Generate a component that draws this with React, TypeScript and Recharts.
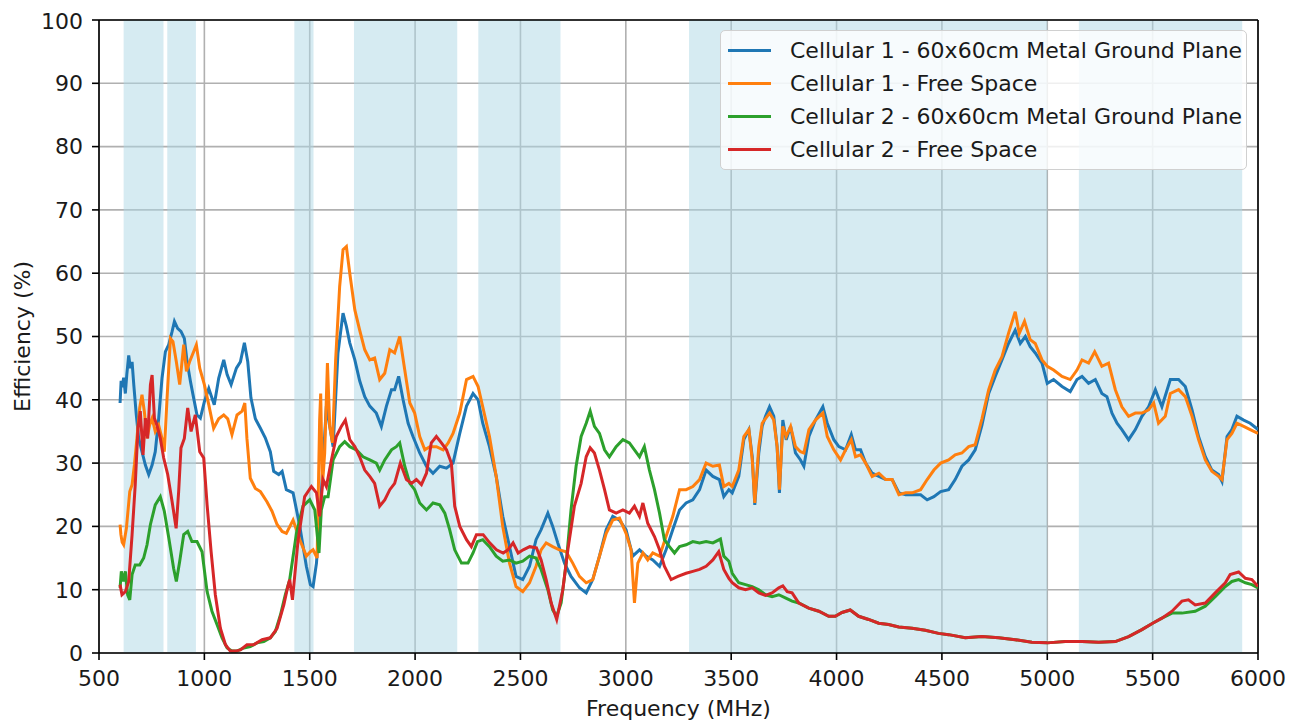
import React from "react";
import {
  LineChart,
  Line,
  XAxis,
  YAxis,
  CartesianGrid,
  ReferenceArea,
  ReferenceLine,
} from "recharts";

// [frequency MHz, efficiency %]
const cell1Ground: [number, number][] = [
  [600, 39.5], [605, 43], [610, 42], [617, 43.5], [625, 41], [632, 44], [641, 47], [649, 45], [657, 46],
  [665, 42.4], [677, 37.6], [688, 34], [704, 31.8], [720, 29.7], [736, 28.2], [752, 29.7], [767, 31.8],
  [783, 37], [799, 43.4], [815, 47.6], [831, 48.7], [847, 50.8], [858, 52.4], [873, 51.3], [889, 50.8],
  [905, 49.7], [918, 46], [934, 42.9], [949, 40.3], [965, 37.6], [981, 37.1], [1000, 39.7], [1021, 41.8],
  [1047, 39.2], [1068, 43.4], [1092, 46.3], [1108, 44], [1127, 42.4], [1152, 45], [1171, 46], [1190, 49],
  [1206, 46], [1221, 40.3], [1242, 37], [1266, 35.5], [1289, 34], [1313, 31.8], [1329, 28.7], [1353, 28.2],
  [1369, 28.7], [1389, 25.8], [1421, 25.3], [1453, 20], [1484, 13.7], [1503, 10.8], [1516, 10.5],
  [1532, 14.2], [1555, 25.3], [1579, 39], [1595, 35.8], [1611, 32.6], [1634, 47.4], [1658, 53.7],
  [1674, 51.6], [1690, 49], [1714, 46.3], [1737, 43], [1761, 40.5], [1785, 39], [1816, 37.9], [1840, 35.8],
  [1864, 39], [1888, 41.6], [1903, 41.6], [1922, 43.7], [1943, 40], [1967, 36.3], [1990, 34.2], [2022, 31.6],
  [2054, 29.5], [2085, 28.4], [2117, 29.5], [2149, 29.2], [2180, 30], [2212, 34.7], [2244, 39], [2275, 41],
  [2299, 40], [2321, 36.3], [2353, 32.6], [2385, 27.9], [2416, 21.6], [2448, 16.8], [2479, 12.1],
  [2511, 11.6], [2543, 13.7], [2574, 17.9], [2598, 19.5], [2630, 22.1], [2653, 20], [2677, 17.4],
  [2709, 14.2], [2740, 12.1], [2780, 10.3], [2812, 9.5], [2843, 11.6], [2875, 15.3], [2907, 19.5],
  [2938, 21.6], [2970, 21], [3001, 19.5], [3033, 15.3], [3065, 16.3], [3096, 15.3], [3128, 14.7],
  [3160, 13.7], [3191, 16.3], [3223, 19.5], [3255, 22.6], [3286, 23.7], [3318, 24.2], [3350, 25.8],
  [3381, 28.9], [3413, 27.9], [3444, 27.4], [3465, 24.7], [3489, 25.8], [3505, 25.3], [3536, 27.9],
  [3560, 33.7], [3584, 35.3], [3600, 31], [3612, 23.4], [3631, 31.6], [3647, 35.8], [3663, 37.4],
  [3682, 38.9], [3702, 37.4], [3718, 32.6], [3729, 25.3], [3745, 36.8], [3761, 33.7], [3782, 35.8],
  [3805, 31.6], [3829, 30.5], [3845, 29.5], [3869, 34.2], [3900, 36.8], [3935, 38.9], [3956, 36.3],
  [3987, 33.7], [4011, 32.6], [4043, 32.1], [4070, 34.5], [4090, 32.1], [4114, 32.1], [4138, 30],
  [4169, 28.4], [4201, 27.9], [4233, 27.4], [4264, 27.4], [4296, 25.3], [4328, 25], [4359, 25], [4399, 25],
  [4430, 24.2], [4462, 24.7], [4494, 25.5], [4532, 25.8], [4563, 27.4], [4595, 29.5], [4627, 30.5],
  [4658, 32.1], [4690, 36], [4722, 41], [4753, 43.7], [4785, 46.3], [4816, 48.9], [4848, 51], [4872, 48.9],
  [4896, 50], [4919, 48.4], [4943, 47.4], [4975, 45.8], [5000, 42.6], [5030, 43.2], [5070, 42.1],
  [5109, 41.3], [5141, 43.2], [5165, 43.7], [5196, 42.6], [5228, 43.2], [5259, 41], [5283, 40.5],
  [5307, 37.9], [5331, 36.3], [5354, 35.3], [5386, 33.7], [5418, 35.3], [5449, 37.4], [5481, 38.9],
  [5513, 41.6], [5544, 38.9], [5584, 43.2], [5623, 43.2], [5655, 42.1], [5687, 38.4], [5718, 34.2],
  [5750, 31], [5781, 28.9], [5813, 28.2], [5829, 27.1], [5853, 34.2], [5876, 35.3], [5900, 37.4],
  [5932, 36.8], [5963, 36.3], [6000, 35.3],
];

const cell1Free: [number, number][] = [
  [600, 20.3], [604, 18.7], [610, 17.5], [617, 17.1], [630, 19.7], [646, 25.5], [657, 26.6], [668, 29.7],
  [680, 33.9], [693, 38.7], [704, 40.8], [715, 38.2], [728, 33.9], [740, 36], [752, 37.1], [767, 35],
  [783, 36], [799, 33.9], [810, 31.8], [823, 40.3], [839, 49.7], [851, 49.2], [867, 46], [883, 42.4],
  [902, 48.7], [915, 44.5], [930, 46], [949, 47.6], [962, 48.7], [978, 45], [1000, 42.4], [1021, 39.2],
  [1044, 35.5], [1068, 37], [1092, 37.6], [1111, 37], [1131, 34.5], [1155, 37.6], [1179, 38.2],
  [1192, 39.5], [1202, 33.9], [1218, 27.6], [1242, 26], [1266, 25.5], [1297, 23.9], [1321, 22.4],
  [1345, 20.3], [1369, 19.2], [1389, 18.9], [1421, 21], [1453, 17.9], [1484, 15.3], [1503, 16],
  [1516, 16.3], [1535, 15], [1547, 36.8], [1552, 41], [1560, 26.3], [1571, 31.6], [1584, 45.8],
  [1595, 35.8], [1608, 33.2], [1623, 46.3], [1642, 57.9], [1658, 63.7], [1674, 64.2], [1690, 60],
  [1714, 54.2], [1737, 51], [1761, 47.9], [1785, 46.3], [1808, 46.6], [1832, 43.2], [1856, 44.2],
  [1880, 47.9], [1903, 47.4], [1927, 50], [1951, 44.7], [1975, 39.5], [1998, 37.9], [2022, 34.2],
  [2046, 32.1], [2070, 32.6], [2101, 32.6], [2133, 32.1], [2157, 33.2], [2180, 34.7], [2212, 37.9],
  [2244, 43.2], [2275, 43.7], [2299, 42.1], [2321, 38.9], [2353, 34.2], [2385, 27.9], [2416, 20],
  [2448, 14.2], [2479, 10.5], [2511, 9.7], [2543, 11.1], [2574, 13.7], [2598, 16.3], [2622, 17.4],
  [2653, 16.8], [2685, 16.3], [2717, 16], [2748, 14.2], [2780, 12.1], [2812, 11.1], [2843, 11.6],
  [2875, 15.3], [2907, 18.9], [2938, 21], [2970, 21.3], [3001, 18.9], [3025, 16.3], [3041, 7.9],
  [3057, 14.2], [3081, 15.8], [3104, 14.7], [3128, 15.8], [3160, 15.3], [3191, 18.4], [3223, 21.6],
  [3255, 25.8], [3286, 25.8], [3318, 26.3], [3350, 27.4], [3381, 30], [3413, 29.5], [3444, 29.7],
  [3465, 26.3], [3489, 26.8], [3505, 26.3], [3536, 28.9], [3560, 34.2], [3584, 35.3], [3600, 30.5],
  [3612, 23.7], [3631, 32.6], [3647, 36.3], [3682, 37.9], [3702, 36.8], [3718, 32.6], [3729, 25.8],
  [3745, 35.8], [3761, 34.2], [3782, 35.8], [3805, 32.6], [3829, 31.8], [3845, 31.6], [3869, 35.3],
  [3900, 36.8], [3935, 37.9], [3956, 34.2], [3987, 32.1], [4019, 30.5], [4043, 32.1], [4070, 33.7],
  [4090, 31], [4114, 31.3], [4138, 30], [4169, 27.9], [4201, 28.4], [4233, 27.4], [4264, 27.4], [4296, 25],
  [4328, 25.3], [4359, 25.3], [4399, 25.8], [4430, 27.4], [4462, 28.9], [4494, 30], [4532, 30.5],
  [4563, 31.3], [4595, 31.6], [4627, 32.6], [4658, 32.9], [4690, 37], [4722, 41.6], [4753, 44.7],
  [4785, 46.8], [4816, 50.5], [4848, 53.9], [4867, 50.5], [4892, 52.4], [4919, 49.5], [4943, 48.9],
  [4975, 46.3], [5000, 45.3], [5030, 44.7], [5070, 43.7], [5109, 43.2], [5141, 44.7], [5165, 46.3],
  [5196, 45.8], [5225, 47.6], [5259, 45.3], [5291, 45.8], [5323, 41.6], [5354, 38.9], [5386, 37.4],
  [5418, 37.9], [5449, 37.9], [5481, 38.4], [5505, 39.5], [5528, 36.3], [5560, 37.4], [5584, 41],
  [5623, 41.6], [5655, 40.5], [5687, 37.4], [5718, 33.7], [5750, 30.5], [5781, 28.7], [5813, 27.9],
  [5829, 27.4], [5853, 33.7], [5876, 34.7], [5900, 36.3], [5932, 35.8], [5963, 35.3], [6000, 34.7],
];

const cell2Ground: [number, number][] = [
  [600, 10.3], [606, 12.9], [617, 11.3], [625, 12.9], [636, 9.2], [646, 8.4], [657, 12.4], [672, 13.9],
  [693, 13.9], [712, 15], [728, 17.1], [744, 20.3], [767, 23.4], [791, 24.7], [810, 22.4], [831, 18.2],
  [854, 13.4], [867, 11.3], [883, 14.5], [902, 18.7], [921, 19.2], [941, 17.6], [965, 17.6], [989, 16],
  [1013, 9.7], [1036, 6.6], [1060, 4.5], [1084, 2.4], [1108, 0.8], [1131, 0.3], [1155, 0.3], [1187, 0.8],
  [1218, 1], [1250, 1.6], [1282, 1.8], [1313, 2.4], [1337, 3.4], [1361, 6], [1384, 9.2], [1405, 11.6],
  [1437, 18.9], [1468, 23.2], [1500, 24.2], [1524, 22.6], [1544, 15.8], [1555, 22.6], [1571, 24.7],
  [1587, 24.7], [1611, 30.5], [1642, 32.6], [1666, 33.4], [1690, 32.6], [1721, 32.1], [1753, 31],
  [1785, 30.5], [1816, 30], [1832, 28.9], [1856, 30.5], [1888, 32.1], [1911, 32.6], [1927, 33.2],
  [1951, 29.5], [1975, 26.8], [1998, 25.8], [2022, 23.7], [2054, 22.6], [2085, 23.7], [2117, 23.4],
  [2141, 22.1], [2164, 19.5], [2188, 16.3], [2220, 14.2], [2251, 14.2], [2275, 15.8], [2296, 17.6],
  [2321, 17.9], [2353, 16.8], [2385, 15.3], [2416, 14.5], [2448, 14.7], [2479, 14.2], [2511, 14.5],
  [2543, 15.3], [2574, 15], [2598, 13.2], [2630, 10], [2653, 6.8], [2672, 5.8], [2693, 7.9], [2717, 14.2],
  [2740, 22.6], [2764, 29.5], [2788, 34.2], [2812, 36.3], [2831, 38.2], [2851, 35.8], [2875, 34.7],
  [2899, 32.1], [2922, 31], [2954, 32.6], [2986, 33.7], [3017, 33.2], [3041, 32.1], [3065, 31],
  [3088, 32.6], [3112, 28.9], [3136, 25.8], [3160, 22.1], [3183, 17.9], [3207, 16.8], [3231, 15.8],
  [3255, 16.8], [3286, 17.1], [3318, 17.6], [3350, 17.4], [3381, 17.6], [3413, 17.4], [3449, 18],
  [3465, 15.3], [3489, 14.5], [3505, 12.6], [3536, 11.1], [3568, 10.8], [3600, 10.5], [3631, 10],
  [3663, 9.2], [3694, 8.9], [3726, 9.2], [3757, 8.7], [3789, 8.2], [3821, 7.9], [3868, 7.1], [3916, 6.6],
  [3963, 5.8], [3994, 5.8], [4026, 6.4], [4065, 6.8], [4105, 5.8], [4152, 5.3], [4200, 4.7], [4247, 4.5],
  [4295, 4.1], [4358, 3.9], [4421, 3.6], [4484, 3.1], [4532, 2.9], [4611, 2.4], [4690, 2.6], [4769, 2.4],
  [4848, 2.1], [4927, 1.7], [5000, 1.6], [5085, 1.8], [5165, 1.8], [5244, 1.7], [5323, 1.8], [5386, 2.6],
  [5449, 3.7], [5500, 4.7], [5544, 5.5], [5592, 6.3], [5639, 6.3], [5702, 6.6], [5750, 7.4], [5797, 8.9],
  [5845, 10.5], [5876, 11.3], [5908, 11.6], [5940, 11.1], [5971, 10.8], [6000, 10.3],
];

const cell2Free: [number, number][] = [
  [600, 10.8], [609, 9.2], [625, 9.7], [641, 11.3], [657, 18.7], [672, 26.6], [685, 35.5], [696, 38.2],
  [709, 31.3], [720, 37.1], [731, 33.9], [744, 42.4], [752, 43.9], [763, 37.1], [775, 36], [791, 33.9],
  [807, 30.8], [826, 28.2], [847, 23.9], [866, 19.7], [878, 25.5], [889, 32.4], [905, 33.9], [921, 38.7],
  [937, 35], [957, 37.6], [978, 31.8], [997, 30.8], [1013, 23.4], [1032, 16], [1052, 9.2], [1076, 3.9],
  [1100, 1.3], [1123, 0.3], [1147, 0.3], [1171, 0.5], [1202, 1.3], [1234, 1.3], [1274, 2.1], [1313, 2.4],
  [1345, 3.9], [1377, 7.6], [1396, 10.5], [1405, 11.6], [1418, 8.4], [1445, 17.9], [1476, 24.7],
  [1508, 26.3], [1532, 25.3], [1547, 21.6], [1563, 27.4], [1579, 26.3], [1603, 30.5], [1626, 34.2],
  [1650, 35.8], [1669, 36.8], [1690, 33.7], [1714, 32.6], [1737, 31], [1761, 28.9], [1785, 27.9],
  [1808, 26.8], [1832, 23.2], [1856, 24.2], [1880, 25.8], [1903, 26.8], [1930, 30], [1959, 27.4],
  [1983, 26.8], [2006, 27.4], [2030, 26.6], [2054, 28.4], [2077, 33.2], [2101, 34.2], [2125, 33.2],
  [2149, 32.1], [2172, 30], [2188, 23.2], [2212, 20], [2244, 17.9], [2267, 16.8], [2291, 18.7],
  [2323, 18.7], [2354, 17.4], [2386, 16.3], [2418, 15.8], [2441, 16.3], [2465, 17.4], [2489, 15.8],
  [2513, 16.3], [2544, 16.8], [2576, 16.6], [2598, 14.7], [2622, 11.6], [2646, 7.9], [2672, 5.3],
  [2701, 10], [2725, 16.3], [2756, 23.2], [2788, 26.8], [2812, 31], [2831, 32.4], [2851, 31.6],
  [2875, 28.9], [2899, 25.8], [2922, 22.6], [2954, 22.1], [2986, 22.6], [3017, 22.1], [3041, 23.2],
  [3065, 21.6], [3081, 23.7], [3104, 20.5], [3136, 18.4], [3160, 16.3], [3183, 13.7], [3215, 11.6],
  [3247, 12.1], [3286, 12.6], [3318, 12.9], [3350, 13.2], [3381, 13.7], [3413, 14.7], [3441, 16],
  [3465, 13.2], [3489, 11.8], [3505, 11.1], [3536, 10.3], [3568, 10], [3600, 10.3], [3631, 9.5],
  [3663, 9.1], [3694, 9.5], [3726, 10.3], [3745, 10.6], [3766, 9.7], [3789, 9.5], [3821, 7.9],
  [3868, 7.1], [3916, 6.6], [3963, 5.8], [3994, 5.8], [4026, 6.4], [4065, 6.8], [4105, 5.8], [4152, 5.3],
  [4200, 4.7], [4247, 4.5], [4295, 4.1], [4358, 3.9], [4421, 3.6], [4484, 3.1], [4532, 2.9], [4611, 2.4],
  [4690, 2.6], [4769, 2.4], [4848, 2.1], [4927, 1.7], [5000, 1.6], [5085, 1.8], [5165, 1.8], [5244, 1.7],
  [5323, 1.8], [5386, 2.6], [5449, 3.7], [5500, 4.7], [5544, 5.5], [5592, 6.6], [5639, 8.2], [5670, 8.4],
  [5702, 7.6], [5750, 7.9], [5797, 9.5], [5845, 11.1], [5868, 12.4], [5908, 12.8], [5940, 11.8],
  [5971, 11.6], [6000, 10.5],
];

// shaded cellular bands, MHz
const bands: [number, number][] = [
  [617, 806], [824, 960], [1427, 1518], [1710, 2200], [2300, 2690], [3300, 5000], [5150, 5925],
];

const xTicks = [500, 1000, 1500, 2000, 2500, 3000, 3500, 4000, 4500, 5000, 5500, 6000];
const yTicks = [0, 10, 20, 30, 40, 50, 60, 70, 80, 90, 100];

const series = [
  { name: "Cellular 1 - 60x60cm Metal Ground Plane", color: "#1f77b4", points: cell1Ground },
  { name: "Cellular 1 - Free Space", color: "#ff7f0e", points: cell1Free },
  { name: "Cellular 2 - 60x60cm Metal Ground Plane", color: "#2ca02c", points: cell2Ground },
  { name: "Cellular 2 - Free Space", color: "#d62728", points: cell2Free },
];

const toRows = (pts: [number, number][]) => pts.map(([f, v]) => ({ f, v }));

const FONT = "'DejaVu Sans', sans-serif";
const FS = 22;
const tickStyle = { fill: "#1a1a1a", fontSize: FS, fontFamily: FONT };

export default function App() {
  return (
    <div style={{ position: "relative", width: 1290, height: 714, fontFamily: FONT }}>
      <LineChart
        width={1290}
        height={714}
        margin={{ top: 12, right: 40, bottom: 0, left: 0 }}
      >
        {bands.map(([a, b]) => (
          <ReferenceArea
            key={a}
            x1={a}
            x2={b}
            y1={0}
            y2={100}
            fill="#add8e6"
            fillOpacity={0.5}
            stroke="none"
            ifOverflow="hidden"
          />
        ))}
        <CartesianGrid stroke="#b0b0b0" strokeWidth={1.6} />
        <XAxis
          type="number"
          dataKey="f"
          domain={[500, 6000]}
          ticks={xTicks}
          allowDataOverflow
          height={69}
          tick={tickStyle}
          tickSize={7}
          tickMargin={10}
          stroke="#000"
          strokeWidth={1.6}
          label={{
            value: "Frequency (MHz)",
            position: "insideBottom",
            offset: 6,
            style: { fill: "#1a1a1a", fontSize: FS, fontFamily: FONT },
          }}
        />
        <YAxis
          type="number"
          domain={[0, 100]}
          ticks={yTicks}
          width={91}
          tick={tickStyle}
          tickSize={7}
          tickMargin={9}
          stroke="#000"
          strokeWidth={1.6}
          label={{
            value: "Efficiency (%)",
            angle: -90,
            position: "insideLeft",
            offset: 14,
            style: { textAnchor: "middle", fill: "#1a1a1a", fontSize: FS, fontFamily: FONT },
          }}
        />
        <ReferenceLine y={100} stroke="#000" strokeWidth={1.6} />
        <ReferenceLine x={6000} stroke="#000" strokeWidth={1.6} />
        {series.map((s) => (
          <Line
            key={s.name}
            data={toRows(s.points)}
            dataKey="v"
            name={s.name}
            type="linear"
            stroke={s.color}
            strokeWidth={3}
            dot={false}
            activeDot={false}
            isAnimationActive={false}
          />
        ))}
      </LineChart>
      <div
        style={{
          position: "absolute",
          left: 712,
          top: 22,
          width: 527,
          padding: "3px 0",
          background: "rgba(255,255,255,0.8)",
          border: "1.5px solid #d0d0d0",
          borderRadius: 5,
          boxSizing: "border-box",
        }}
      >
        {series.map((s) => (
          <div
            key={s.name}
            style={{ display: "flex", alignItems: "center", height: 33, fontSize: FS, color: "#1a1a1a" }}
          >
            <span
              style={{ display: "inline-block", width: 43, height: 3, background: s.color, marginLeft: 7, marginRight: 19 }}
            />
            <span style={{ whiteSpace: "nowrap" }}>{s.name}</span>
          </div>
        ))}
      </div>
    </div>
  );
}
